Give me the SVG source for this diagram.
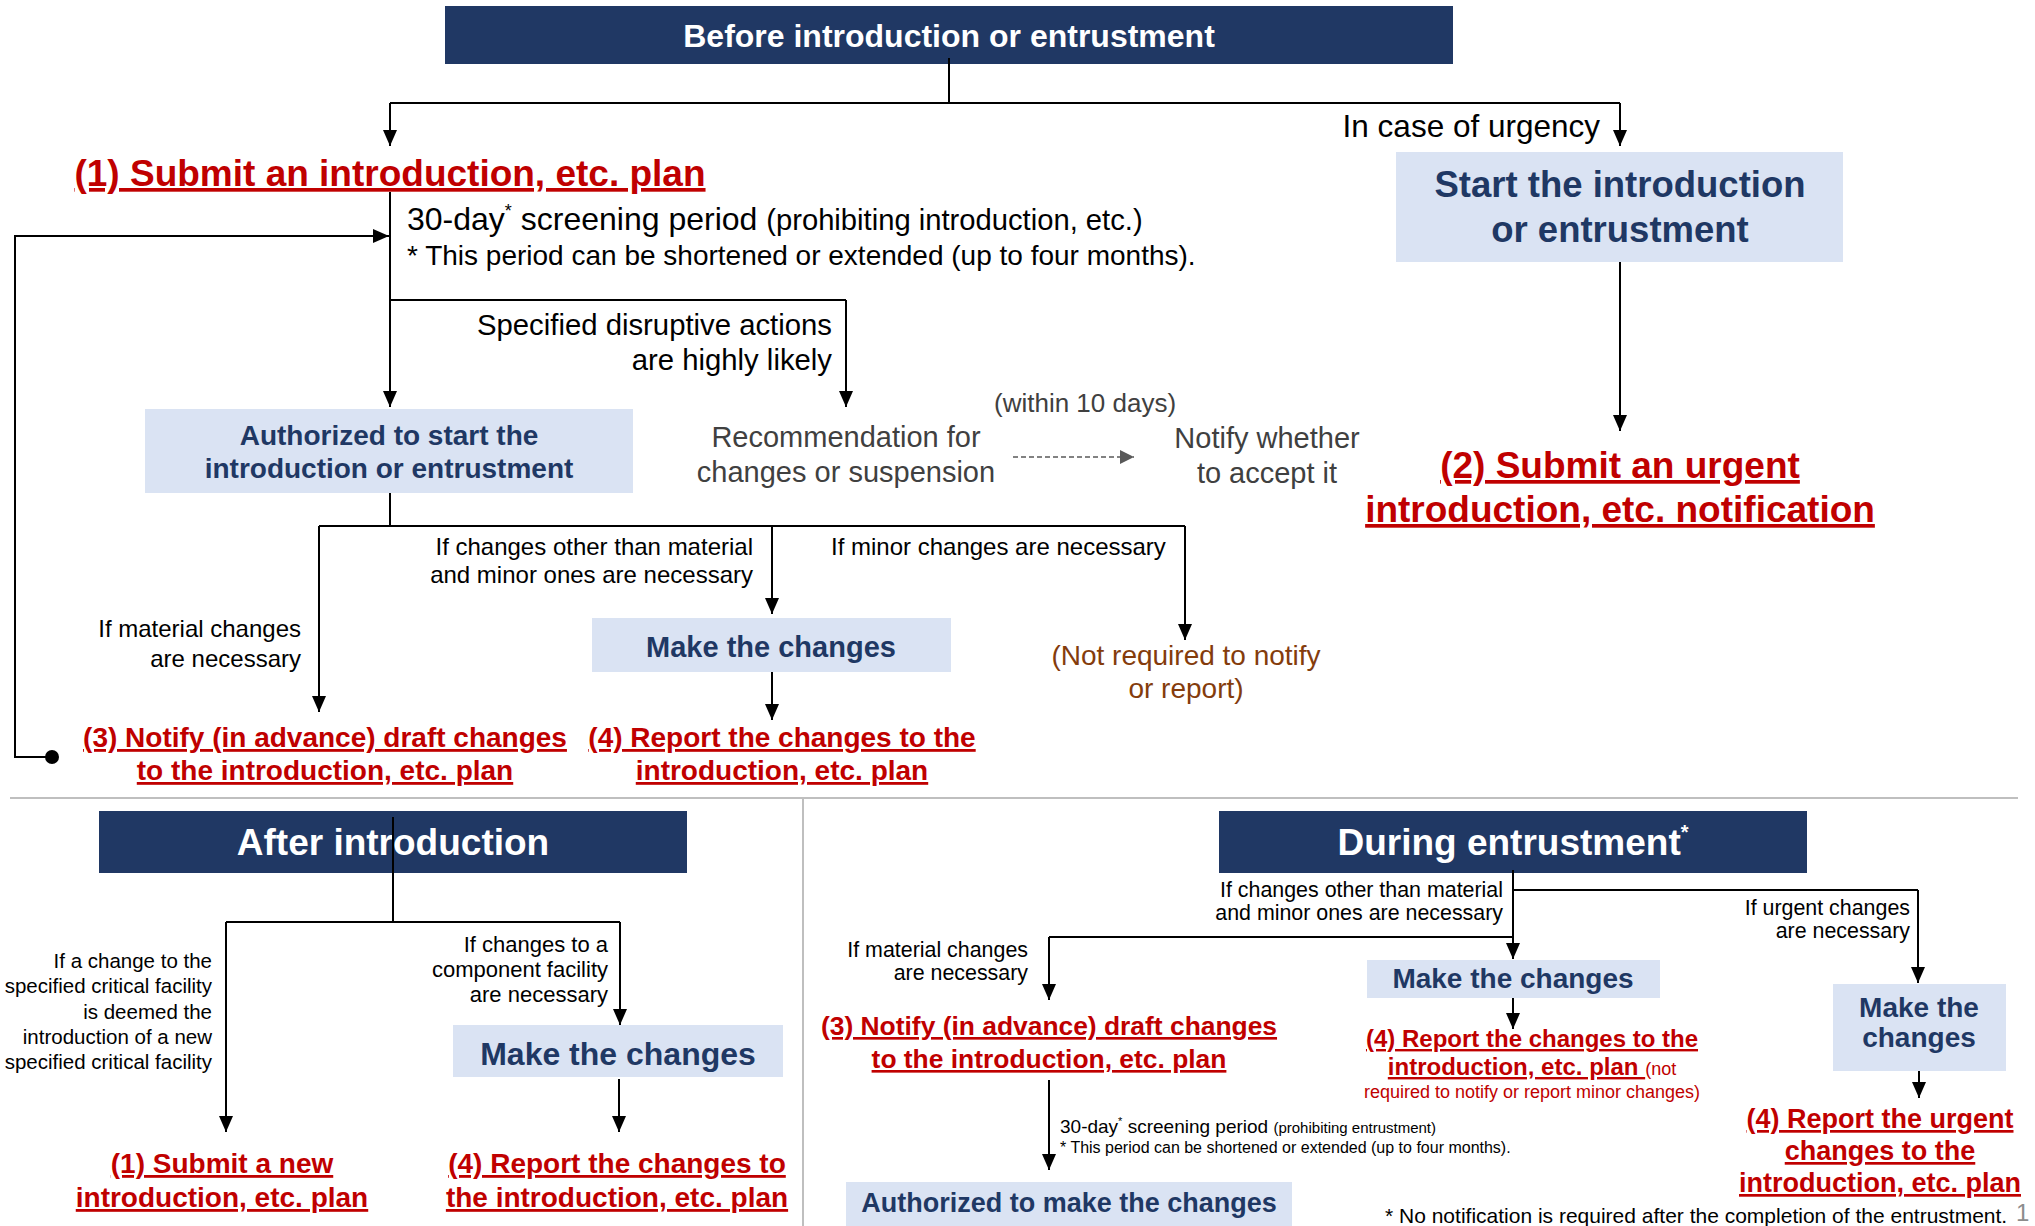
<svg xmlns="http://www.w3.org/2000/svg" width="2035" height="1226" viewBox="0 0 2035 1226">
<defs>
<marker id="ah" markerWidth="16" markerHeight="14" refX="16" refY="7" orient="auto" markerUnits="userSpaceOnUse"><path d="M0,0 L16,7 L0,14 z" fill="#000"/></marker>
<marker id="ahg" markerWidth="14" markerHeight="14" refX="14" refY="7" orient="auto" markerUnits="userSpaceOnUse"><path d="M0,0 L14,7 L0,14 z" fill="#595959"/></marker>
<style>
text{font-family:"Liberation Sans",Arial,sans-serif;}
.hdr{fill:#203864;}
.hdrt{fill:#fff;font-weight:bold;text-anchor:middle;}
.box{fill:#DAE3F3;}
.boxt{fill:#1F3864;font-weight:bold;text-anchor:middle;}
.red{fill:#C00000;font-weight:bold;text-anchor:middle;text-decoration:underline;}
.lbl{fill:#000;}
.end{text-anchor:end;}
.mid{text-anchor:middle;}
.gray{fill:#404040;}
.brown{fill:#843C0C;text-anchor:middle;}
.ln{fill:none;stroke:#000;stroke-width:2;}
.arr{fill:none;stroke:#000;stroke-width:2;marker-end:url(#ah);}
</style>
</defs>

<!-- separators -->
<g id="separators">
<line x1="10" y1="798" x2="2018" y2="798" stroke="#BFBFBF" stroke-width="2"/>
<line x1="803" y1="798" x2="803" y2="1226" stroke="#BFBFBF" stroke-width="2"/>
</g>

<!-- nodes: top section -->
<g id="hdr-before">
<rect class="hdr" x="445" y="6" width="1008" height="58"/>
<text class="hdrt" x="949" y="47" font-size="32">Before introduction or entrustment</text>
</g>
<g id="submit-plan">
<text class="red" x="390" y="186" font-size="37">(1) Submit an introduction, etc. plan</text>
</g>
<g id="screening-note">
<text class="lbl" x="407" y="230" font-size="32">30-day<tspan font-size="18" dy="-13">*</tspan><tspan dy="13"> screening period </tspan><tspan font-size="29.2">(prohibiting introduction, etc.)</tspan></text>
<text class="lbl" x="407" y="265" font-size="28">* This period can be shortened or extended (up to four months).</text>
</g>
<g id="urgency-label">
<text class="lbl end" x="1600" y="137" font-size="31.5">In case of urgency</text>
</g>
<g id="start-intro">
<rect class="box" x="1396" y="152" width="447" height="110"/>
<text class="boxt" x="1620" y="197" font-size="36.5">Start the introduction</text>
<text class="boxt" x="1620" y="242" font-size="36.5">or entrustment</text>
</g>
<g id="disruptive-label">
<text class="lbl end" x="832" y="335" font-size="29.3">Specified disruptive actions</text>
<text class="lbl end" x="832" y="370" font-size="29.3">are highly likely</text>
</g>
<g id="authorized-start">
<rect class="box" x="145" y="409" width="488" height="84"/>
<text class="boxt" x="389" y="445" font-size="28">Authorized to start the</text>
<text class="boxt" x="389" y="478" font-size="28">introduction or entrustment</text>
</g>
<g id="recommendation">
<text class="gray mid" x="846" y="447" font-size="29">Recommendation for</text>
<text class="gray mid" x="846" y="482" font-size="29">changes or suspension</text>
</g>
<g id="within-10">
<text class="gray" x="994" y="412" font-size="26">(within 10 days)</text>
</g>
<g id="notify-whether">
<text class="gray mid" x="1267" y="448" font-size="29">Notify whether</text>
<text class="gray mid" x="1267" y="483" font-size="29">to accept it</text>
</g>
<g id="urgent-notification">
<text class="red" x="1620" y="478" font-size="37">(2) Submit an urgent</text>
<text class="red" x="1620" y="522" font-size="37">introduction, etc. notification</text>
</g>
<g id="branch-labels-top">
<text class="lbl end" x="753" y="555" font-size="24">If changes other than material</text>
<text class="lbl end" x="753" y="583" font-size="24">and minor ones are necessary</text>
<text class="lbl" x="831" y="555" font-size="24">If minor changes are necessary</text>
<text class="lbl end" x="301" y="637" font-size="24">If material changes</text>
<text class="lbl end" x="301" y="667" font-size="24">are necessary</text>
</g>
<g id="make-changes-top">
<rect class="box" x="592" y="618" width="359" height="54"/>
<text class="boxt" x="771" y="657" font-size="29">Make the changes</text>
</g>
<g id="notify-draft-top">
<text class="red" x="325" y="747" font-size="28">(3) Notify (in advance) draft changes</text>
<text class="red" x="325" y="780" font-size="28">to the introduction, etc. plan</text>
</g>
<g id="report-top">
<text class="red" x="782" y="747" font-size="28">(4) Report the changes to the</text>
<text class="red" x="782" y="780" font-size="28">introduction, etc. plan</text>
</g>
<g id="not-required">
<text class="brown" x="1186" y="665" font-size="28">(Not required to notify</text>
<text class="brown" x="1186" y="698" font-size="28">or report)</text>
</g>

<!-- bottom left -->
<g id="hdr-after">
<rect class="hdr" x="99" y="811" width="588" height="62"/>
<text class="hdrt" x="393" y="855" font-size="37">After introduction</text>
</g>
<g id="labels-after">
<text class="lbl end" x="212" y="968" font-size="20.5">If a change to the</text>
<text class="lbl end" x="212" y="993" font-size="20.5">specified critical facility</text>
<text class="lbl end" x="212" y="1019" font-size="20.5">is deemed the</text>
<text class="lbl end" x="212" y="1044" font-size="20.5">introduction of a new</text>
<text class="lbl end" x="212" y="1069" font-size="20.5">specified critical facility</text>
<text class="lbl end" x="608" y="952" font-size="22">If changes to a</text>
<text class="lbl end" x="608" y="977" font-size="22">component facility</text>
<text class="lbl end" x="608" y="1002" font-size="22">are necessary</text>
</g>
<g id="make-changes-after">
<rect class="box" x="453" y="1025" width="330" height="52"/>
<text class="boxt" x="618" y="1065" font-size="32">Make the changes</text>
</g>
<g id="submit-new">
<text class="red" x="222" y="1173" font-size="28">(1) Submit a new</text>
<text class="red" x="222" y="1207" font-size="28">introduction, etc. plan</text>
</g>
<g id="report-after">
<text class="red" x="617" y="1173" font-size="28">(4) Report the changes to</text>
<text class="red" x="617" y="1207" font-size="28">the introduction, etc. plan</text>
</g>

<!-- bottom right -->
<g id="hdr-during">
<rect class="hdr" x="1219" y="811" width="588" height="62"/>
<text class="hdrt" x="1513" y="855" font-size="37">During entrustment<tspan font-size="20" dy="-16">*</tspan></text>
</g>
<g id="labels-during">
<text class="lbl end" x="1503" y="897" font-size="21.4">If changes other than material</text>
<text class="lbl end" x="1503" y="920" font-size="21.4">and minor ones are necessary</text>
<text class="lbl end" x="1910" y="915" font-size="21.4">If urgent changes</text>
<text class="lbl end" x="1910" y="938" font-size="21.4">are necessary</text>
<text class="lbl end" x="1028" y="957" font-size="21.4">If material changes</text>
<text class="lbl end" x="1028" y="980" font-size="21.4">are necessary</text>
</g>
<g id="make-changes-during">
<rect class="box" x="1367" y="960" width="293" height="38"/>
<text class="boxt" x="1513" y="988" font-size="28">Make the changes</text>
</g>
<g id="report-during">
<text class="red" x="1532" y="1047" font-size="24">(4) Report the changes to the</text>
<text x="1532" y="1075" font-size="24" text-anchor="middle" fill="#C00000"><tspan font-weight="bold" text-decoration="underline">introduction, etc. plan </tspan><tspan font-size="18">(not</tspan></text>
<text x="1532" y="1098" font-size="18" text-anchor="middle" fill="#C00000">required to notify or report minor changes)</text>
</g>
<g id="notify-draft-during">
<text class="red" x="1049" y="1035" font-size="26.4">(3) Notify (in advance) draft changes</text>
<text class="red" x="1049" y="1068" font-size="26.4">to the introduction, etc. plan</text>
</g>
<g id="screening-during">
<text class="lbl" x="1060" y="1133" font-size="19">30-day<tspan font-size="11" dy="-8">*</tspan><tspan dy="8"> screening period </tspan><tspan font-size="15">(prohibiting entrustment)</tspan></text>
<text class="lbl" x="1060" y="1153" font-size="16">* This period can be shortened or extended (up to four months).</text>
</g>
<g id="authorized-changes">
<rect class="box" x="846" y="1182" width="446" height="44"/>
<text class="boxt" x="1069" y="1212" font-size="27">Authorized to make the changes</text>
</g>
<g id="make-changes-urgent">
<rect class="box" x="1833" y="984" width="173" height="87"/>
<text class="boxt" x="1919" y="1017" font-size="28">Make the</text>
<text class="boxt" x="1919" y="1047" font-size="28">changes</text>
</g>
<g id="report-urgent">
<text class="red" x="1880" y="1128" font-size="27">(4) Report the urgent</text>
<text class="red" x="1880" y="1160" font-size="27">changes to the</text>
<text class="red" x="1880" y="1192" font-size="27">introduction, etc. plan</text>
</g>
<g id="footnote">
<text class="lbl" x="1385" y="1223" font-size="21">* No notification is required after the completion of the entrustment.</text>
<text x="2016" y="1221" font-size="24" fill="#8C8C8C">1</text>
</g>

<!-- connectors -->
<g id="connectors">
<path class="ln" d="M949,58 V103"/>
<path class="ln" d="M390,103 H1620"/>
<path class="arr" d="M390,103 V146"/>
<path class="arr" d="M1620,103 V146"/>
<path class="ln" d="M390,192 V300 H846"/>
<path class="arr" d="M390,300 V407"/>
<path class="arr" d="M846,300 V407"/>
<path class="arr" d="M52,757 H15 V236 H389"/>
<circle cx="52" cy="757" r="7" fill="#000"/>
<path class="arr" d="M1620,262 V431"/>
<path d="M1013,457 H1134" fill="none" stroke="#595959" stroke-width="1.5" stroke-dasharray="5,3" marker-end="url(#ahg)"/>
<path class="ln" d="M390,493 V526"/>
<path class="ln" d="M319,526 H1185"/>
<path class="arr" d="M319,526 V712"/>
<path class="arr" d="M772,526 V614"/>
<path class="arr" d="M1185,526 V640"/>
<path class="arr" d="M772,672 V720"/>
<path class="ln" d="M393,817 V922"/>
<path class="ln" d="M226,922 H620"/>
<path class="arr" d="M226,922 V1132"/>
<path class="arr" d="M620,922 V1025"/>
<path class="arr" d="M619,1079 V1132"/>
<path class="arr" d="M1513,870 V959"/>
<path class="ln" d="M1513,890 H1918"/>
<path class="arr" d="M1918,890 V983"/>
<path class="ln" d="M1513,937 H1049"/>
<path class="arr" d="M1049,937 V1000"/>
<path class="arr" d="M1513,998 V1029"/>
<path class="arr" d="M1049,1080 V1170"/>
<path class="arr" d="M1919,1071 V1098"/>
</g>
</svg>
